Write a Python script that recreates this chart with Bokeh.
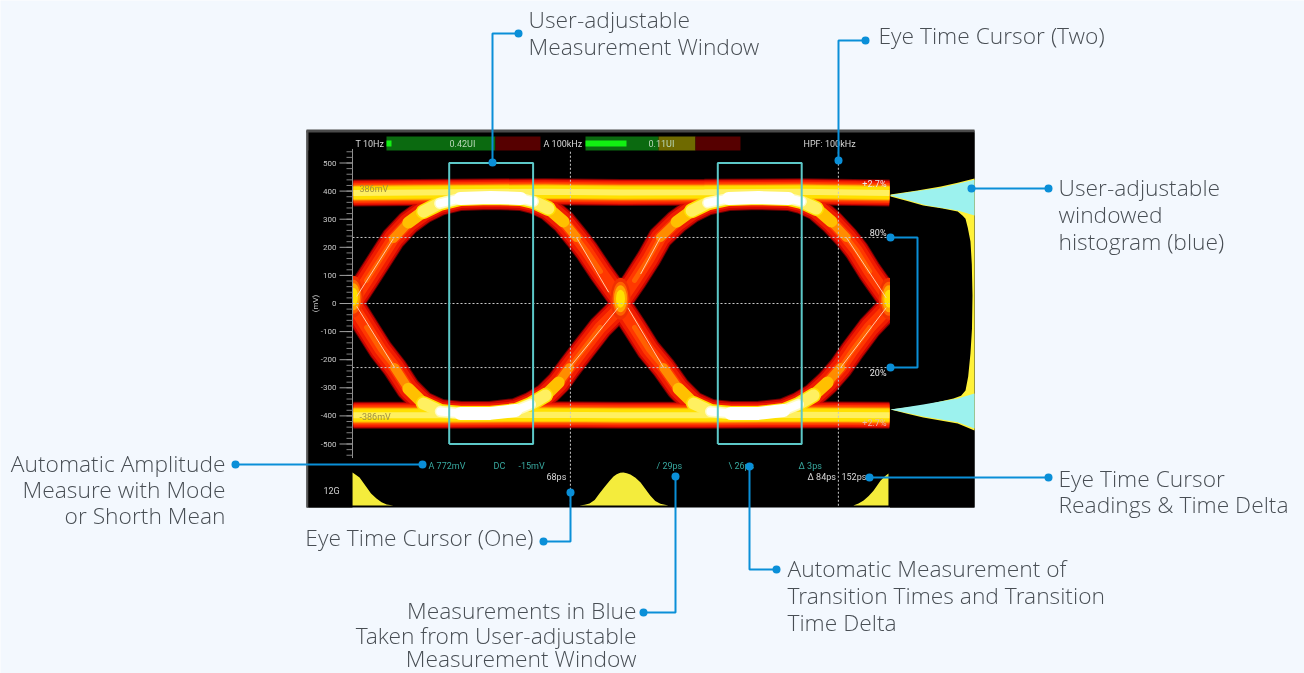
from bokeh.plotting import figure
from bokeh.models import Range1d
from bokeh.core.properties import value
from bokeh.embed import file_html
from bokeh.resources import INLINE

# ---------- data ----------
top_arc_1_ps = [0, 4.1, 8.5, 12.5, 17.2, 21.9, 27, 33.5, 42.9, 52.4, 56.4, 61.1, 65.8, 69.9, 73, 77.4, 83.7]
top_arc_1_mv = [11, 82, 160, 231, 288, 327, 356, 374, 377, 374, 363, 338, 292, 235, 189, 114, 14]
top_arc_2_ps = [84, 88.1, 92.5, 96.2, 101.3, 106, 111, 117.6, 127, 136.4, 140.4, 145.1, 149.8, 154.5, 157.7, 161.8, 168]
top_arc_2_mv = [14, 82, 160, 235, 291, 330, 358, 374, 377, 374, 363, 338, 292, 235, 189, 114, 14]
bot_arc_1_ps = [0, 4.1, 8.5, 12.9, 17.2, 21.9, 27.2, 33.5, 42.9, 50.8, 55.5, 60.2, 64.3, 67.7, 71.8, 77.4, 83.7]
bot_arc_1_mv = [-11, -85, -164, -228, -303, -356, -384, -391, -391, -381, -359, -327, -281, -228, -167, -85, -14]
bot_arc_2_ps = [84, 88.1, 92.5, 97.2, 101.9, 106.6, 111.9, 118.2, 127, 134.8, 139.5, 144.2, 148.6, 152.7, 156.4, 161.8, 168]
bot_arc_2_mv = [-14, -85, -164, -228, -303, -356, -384, -391, -391, -381, -359, -327, -281, -228, -167, -85, -11]
flat_ps = [0, 30, 60, 84, 110, 140, 168]
flat_top_mv = [393, 396, 398, 395, 396, 398, 393]
flat_bot_mv = [-398, -398, -396, -398, -398, -396, -398]
cross_ps = [0, 83.7, 167.8]
cross_mv = [24, 17, 17]

eye_80_mv, eye_20_mv, eye_zero_mv = 235, -228, 0
cursor_ps = [68, 152]
window_left_ps = [30, 114.2]
window_right_ps = [56.3, 140.5]
window_top_mv, window_bot_mv = 500, -500

y_major = [500, 400, 300, 200, 100, 0, -100, -200, -300, -400, -500]
y_minor = [v for v in range(-540, 541, 20)]

hist_y_mv = [445, 430, 416, 402, 388, 381, 365, 349, 338, 327, 312, 302, 270, 221, 140, 28, -90, -178, -260, -310, -328, -338, -350, -363, -377, -392, -406, -427, -452]
hist_y_ct = [0, 20, 40, 68, 100, 100, 80, 61, 38, 20, 14, 10.7, 8, 4.8, 3.2, 2.4, 3, 4.8, 7.5, 10.7, 16, 25, 42, 61, 100, 80, 61, 20, 0]
hist_c_top_mv = [440, 426, 412, 400, 386, 384, 368, 350, 331, 313]
hist_c_top_ct = [0, 20, 40, 68, 100, 100, 80, 58, 20, 0]
hist_c_bot_mv = [-320, -338, -359, -368, -377, -390, -402, -423, -445]
hist_c_bot_ct = [0, 20, 61, 80, 100, 80, 61, 20, 0]

thist_l_ps = [-0.3, 1.9, 4.1, 5.5, 7.2, 8.8, 10.4, 12.5]
thist_l_h = [100, 85, 55, 36, 21, 10, 3, 0]
thist_m_ps = [70.8, 72.5, 74, 75.6, 77.1, 78.7, 80.3, 81.5, 82.5, 83.6, 84.6, 85.7, 86.8, 88.4, 90, 91.5, 93, 94.6, 96.2, 98.7]
thist_m_h = [0, 2, 6, 17, 36, 56, 75, 88, 95, 99, 100, 98, 94, 84, 70, 50, 30, 14, 5, 0]
thist_r_ps = [156.7, 158.3, 159.9, 161.5, 163, 164.1, 165.2, 166.5, 167.7]
thist_r_h = [0, 6, 15, 29, 45, 60, 75, 88, 97]

BG = "#F3F8FE"
INK = "#484E54"
BLUE = "#0A8FD8"
CY = "#5CC8C8"
TEAL = "#38A89F"

FONT = value("Open Sans Light")
SCOPE = value("Roboto")

p = figure(width=1304, height=673, x_range=Range1d(0, 1304), y_range=Range1d(673, 0),
           x_axis_type=None, y_axis_type=None, toolbar_location=None, output_backend="svg",
           min_border=0, outline_line_color=None, background_fill_color=BG, border_fill_color=BG)
p.grid.visible = False
p.styles = {"position": "fixed", "left": "0px", "top": "0px"}

p.extra_x_ranges["ps"] = Range1d(-110.66, 298.12)
p.extra_x_ranges["count"] = Range1d(1159.5, -392.86)
p.extra_y_ranges["mV"] = Range1d(-1316.7, 1078.3)
p.extra_y_ranges["hits"] = Range1d(-509.1, 1530.3)
MV = dict(y_range_name="mV")
PS = dict(x_range_name="ps")

# scope screen
p.quad(left=[306], right=[974], top=[130], bottom=[507], fill_color="#000000", line_color=None)
p.quad(left=[306], right=[974], top=[129], bottom=[132], fill_color="#4a4a4a", line_color=None)
p.quad(left=[306], right=[308], top=[130], bottom=[507], fill_color="#555555", line_color=None)

# eye density bands
arcs = [(top_arc_1_ps, top_arc_1_mv), (top_arc_2_ps, top_arc_2_mv),
        (bot_arc_1_ps, bot_arc_1_mv), (bot_arc_2_ps, bot_arc_2_mv)]
flats = [flat_top_mv, flat_bot_mv]
layers = [  # colour, arc width, arc slice, flat width
    ("#6e0000", 25, (0, 17), 27),
    ("#d00600", 23, (0, 17), 25),
    ("#f01c00", 19, (0, 17), 23),
    ("#ff3800", 12, (0, 17), 20),
    ("#ff6000", 5, (1, 16), 17),
    ("#ff8c00", 9, (3, 14), 15),
    ("#ffc000", 12, (4, 13), 14),
    ("#ffe000", 15, (5, 12), 12),
    ("#fff060", 12, (5, 12), 6),
    ("#fffbc0", 11, (6, 11), 0),
    ("#ffffff", 8, (6, 11), 0),
    ("#ffffff", 13, (7, 10), 0),
]
for col, aw, (a, b), fw in layers:
    if fw:
        for m in flats:
            p.line(flat_ps, m, line_color=col, line_width=fw, **PS, **MV)
    for xs, ys in arcs:
        p.line(xs[a:b], ys[a:b], line_color=col, line_width=aw, line_join="round", line_cap="round", **PS, **MV)
for col, w, h in (("#f03000", 20, 42), ("#ff6000", 16, 34), ("#ffa800", 13, 27), ("#ffe000", 9, 18)):
    p.ellipse(cross_ps, cross_mv, width=w, height=h, width_units="screen", height_units="screen",
              fill_color=col, line_color=None, **PS, **MV)

# masks either side of the eye
p.quad(left=[308], right=[352], top=[150], bottom=[507], fill_color="#000000", line_color=None)
p.quad(left=[889.5], right=[974], top=[132], bottom=[507], fill_color="#000000", line_color=None)

# gauges
p.quad(left=[386, 495, 585, 658, 695], right=[495, 540, 658, 695, 740], top=[136] * 5, bottom=[150] * 5,
       fill_color=["#0b6a10", "#560000", "#0b6a10", "#6f6a00", "#560000"], line_color=None)
p.quad(left=[386, 585], right=[391, 626], top=[140, 140], bottom=[146, 146], fill_color="#12f012", line_color=None)

# reference levels
for lv in (eye_80_mv, eye_zero_mv, eye_20_mv):
    p.line([352, 889], [lv, lv], line_color="#c8c8c8", line_width=1, line_dash="2 2", **MV)
for c in cursor_ps:
    p.line([c, c], [540, -720], line_color="#c8c8c8", line_width=1, line_dash="2 2", **PS, **MV)

# 20-80 fit lines
fit_ps = [(1, 12.5), (80, 69.9), (90, 96.2), (167, 154.5), (1, 12.9), (83, 67.7), (86, 97.2), (167, 152.7)]
fit_mv = [(25, 231), (40, 235), (105, 235), (20, 235), (-10, -228), (-15, -228), (-15, -228), (-15, -228)]
for xs, ys in zip(fit_ps, fit_mv):
    p.line(list(xs), list(ys), line_color="#ffc8a8", line_width=1, **PS, **MV)

# measurement windows
for l, r in zip(window_left_ps, window_right_ps):
    p.line([l, l, r, r, l], [window_bot_mv, window_top_mv, window_top_mv, window_bot_mv, window_bot_mv],
           line_color=CY, line_width=2, **PS, **MV)

# y axis of the scope
p.line([352, 352], [-550, 550], line_color="#909090", line_width=1, **MV)
for v in y_minor:
    p.line([346, 352], [v, v], line_color="#808080", line_width=1, **MV)
for v in y_major:
    p.line([339, 352], [v, v], line_color="#a0a0a0", line_width=1, **MV)
p.text(x=[336] * len(y_major), y=y_major, text=[str(v) for v in y_major], text_color="#c8c8c8",
       text_font=SCOPE, text_font_size="8px", text_align="right", text_baseline="middle", **MV)
p.text(x=[315], y=[303], text=["(mV)"], angle=[1.5708], text_color="#c8c8c8", text_font=SCOPE,
       text_font_size="8px", text_align="center", text_baseline="middle")

# histograms
p.harea(y=hist_y_mv, x1=[0] * len(hist_y_mv), x2=hist_y_ct, fill_color="#FFF23A", x_range_name="count", **MV)
p.harea(y=hist_c_top_mv, x1=[0] * len(hist_c_top_mv), x2=hist_c_top_ct, fill_color="#9CF2EE", x_range_name="count", **MV)
p.harea(y=hist_c_bot_mv, x1=[0] * len(hist_c_bot_mv), x2=hist_c_bot_ct, fill_color="#9CF2EE", x_range_name="count", **MV)
for xs, ys in ((thist_l_ps, thist_l_h), (thist_m_ps, thist_m_h), (thist_r_ps, thist_r_h)):
    p.varea(x=xs, y1=[0] * len(xs), y2=ys, fill_color="#F4EC3C", x_range_name="ps", y_range_name="hits")

# texts on the screen
scope_txt = [
    (355, 143, "T 10Hz", "#d8d8d8", "left"), (449, 143, "0.42UI", "#b8d8b8", "left"),
    (543, 143, "A 100kHz", "#d8d8d8", "left"), (648, 143, "0.11UI", "#b8d8b8", "left"),
    (803, 143, "HPF: 100kHz", "#d8d8d8", "left"), (359, 188, "386mV", "#a09040", "left"),
    (359, 416, "-386mV", "#a09040", "left"), (886, 183, "+2.7%", "#e8e8e8", "right"),
    (886, 232, "80%", "#e8e8e8", "right"), (886, 372, "20%", "#e8e8e8", "right"),
    (886, 422, "+2.7%", "#e8b8a8", "right"), (428, 465, "A 772mV", TEAL, "left"),
    (493, 465, "DC", TEAL, "left"), (518, 465, "-15mV", TEAL, "left"),
    (546, 476, "68ps", "#d8d8d8", "left"), (656, 465, "/ 29ps", TEAL, "left"),
    (728, 465, "\\ 26ps", TEAL, "left"), (798, 465, "Δ 3ps", TEAL, "left"),
    (807, 476, "Δ 84ps", "#d8d8d8", "left"), (841, 476, "152ps", "#d8d8d8", "left"),
    (323, 490, "12G", "#d0d0d0", "left"),
]
for x, y, t, c, al in scope_txt:
    p.text(x=[x], y=[y], text=[t], text_color=c, text_font=SCOPE, text_font_size="9px",
           text_align=al, text_baseline="middle")

# call-out leaders
leaders = [
    ([492, 492, 518], [162, 33, 33]),
    ([838, 838, 865], [160, 40, 40]),
    ([971, 1048], [188, 188]),
    ([890, 917, 917, 890], [237, 237, 367, 367]),
    ([869, 1048], [477, 477]),
    ([235, 422], [464, 464]),
    ([570, 570, 543], [492, 541, 541]),
    ([675, 675, 643], [476, 612, 612]),
    ([749, 749, 776], [466, 569, 569]),
]
for xs, ys in leaders:
    p.line(xs, ys, line_color=BLUE, line_width=2)
    p.scatter([xs[0], xs[-1]], [ys[0], ys[-1]], size=8, color=BLUE, line_color=None)

# call-out texts
notes = [
    (528, [19, 46], ["User-adjustable", "Measurement Window"], "left"),
    (878, [35], ["Eye Time Cursor (Two)"], "left"),
    (1058, [187, 214, 241], ["User-adjustable", "windowed", "histogram (blue)"], "left"),
    (1058, [478, 504], ["Eye Time Cursor", "Readings & Time Delta"], "left"),
    (225, [463, 489, 515], ["Automatic Amplitude", "Measure with Mode", "or Shorth Mean"], "right"),
    (533, [537], ["Eye Time Cursor (One)"], "right"),
    (636, [610, 635, 658], ["Measurements in Blue", "Taken from User-adjustable", "Measurement Window"], "right"),
    (787, [568, 595, 622], ["Automatic Measurement of", "Transition Times and Transition", "Time Delta"], "left"),
]
for x, ys, ts, al in notes:
    p.text(x=[x] * len(ys), y=ys, text=ts, text_color=INK, text_font=FONT, text_font_size="22.8px",
           text_align=al, text_baseline="middle")

open("out.html", "w").write(file_html(p, INLINE))
